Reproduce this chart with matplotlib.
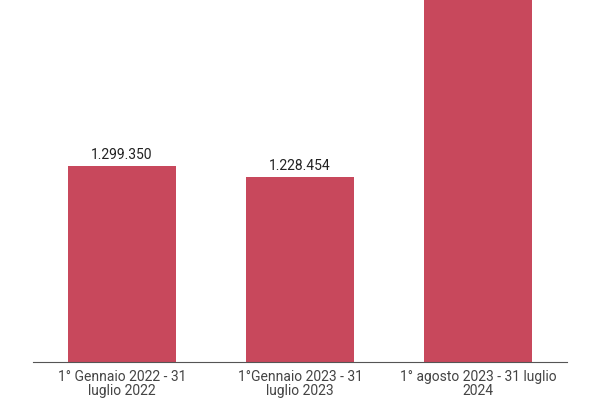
import matplotlib.pyplot as plt

periods = ["1° Gennaio 2022 - 31\nluglio 2022",
           "1°Gennaio 2023 - 31\nluglio 2023",
           "1° agosto 2023 - 31 luglio\n2024"]
values = [1299350, 1228454, 2650000]
value_labels = ["1.299.350", "1.228.454", "2.650.000"]

plt.rcParams["font.family"] = ["Roboto", "DejaVu Sans"]

fig = plt.figure(figsize=(6, 4), dpi=100)
ax = fig.add_axes([0.055, 0.095, 0.89, 0.905])

x = range(len(periods))
bars = ax.bar(x, values, width=0.61, color="#c8485c")
for b, lab in zip(bars, value_labels):
    ax.annotate(lab, (b.get_x() + b.get_width() / 2, b.get_height()),
                xytext=(0, 3), textcoords="offset points",
                ha="center", va="bottom", fontsize=10, color="#222222")

ax.set_xlim(-0.5, 2.5)
ax.set_ylim(0, 2400000)
ax.set_xticks(list(x))
ax.set_xticklabels(periods, fontsize=10, color="#444444", linespacing=1.0)
ax.tick_params(axis="x", length=0, pad=6)
ax.set_yticks([])
for s in ["top", "right", "left"]:
    ax.spines[s].set_visible(False)
ax.spines["bottom"].set_color("#555555")
ax.spines["bottom"].set_linewidth(0.8)

fig.savefig("out.png", dpi=100)
